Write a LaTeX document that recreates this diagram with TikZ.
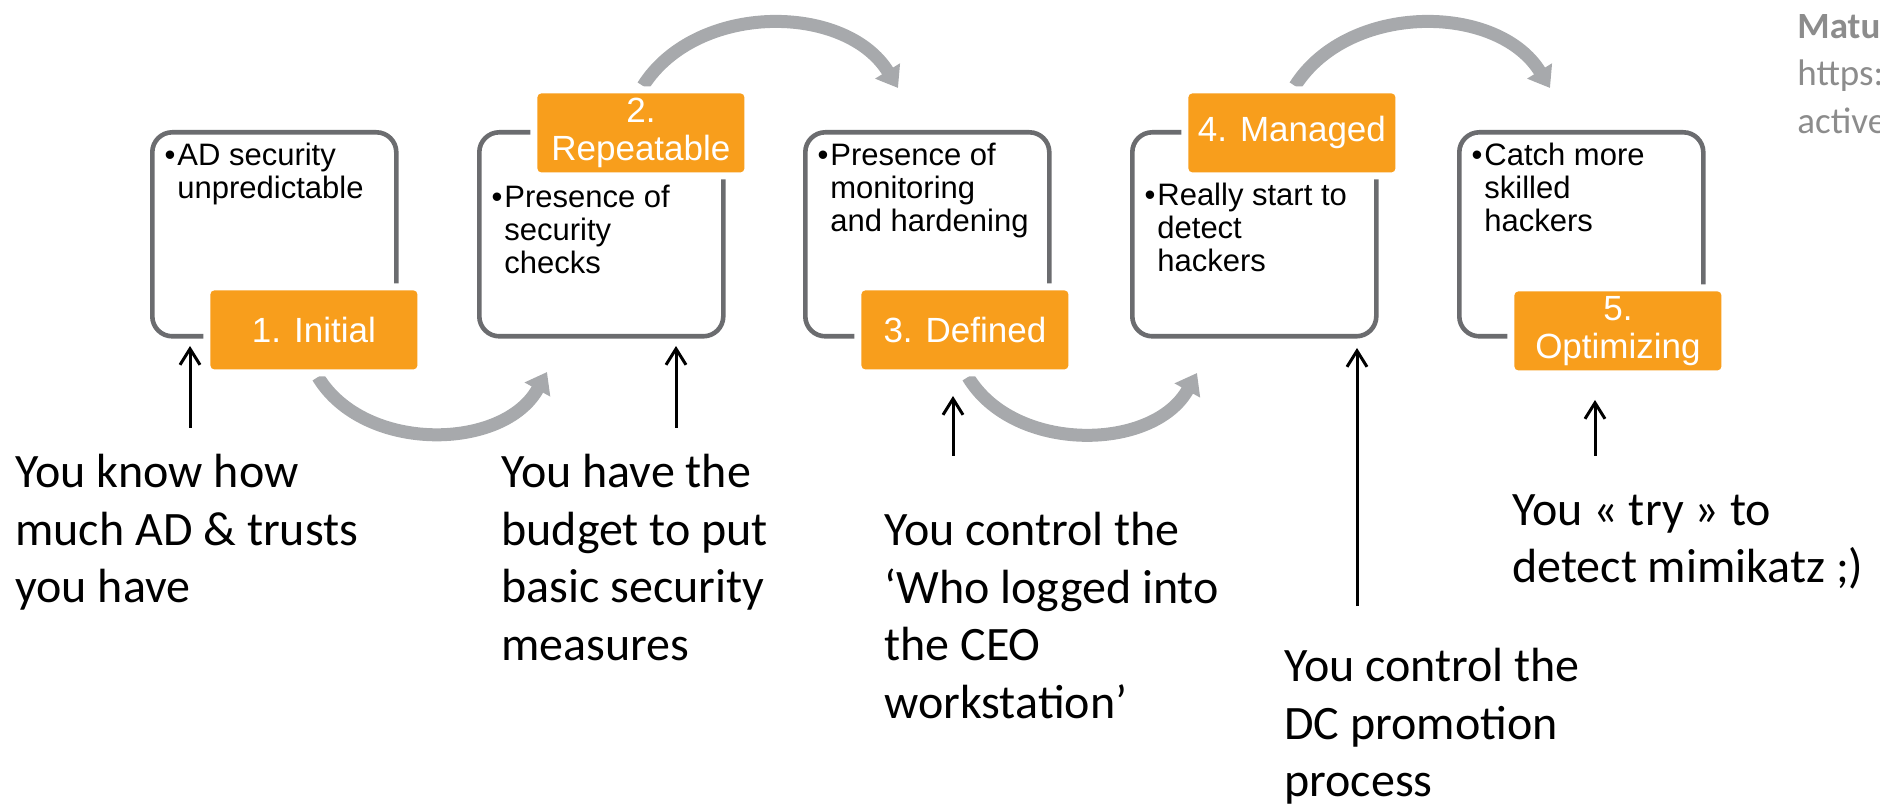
\documentclass[tikz,border=0pt]{standalone}
\usepackage{fontspec}
\setmainfont{Carlito}
\newfontfamily\arialfont{Liberation Sans}
\usetikzlibrary{arrows.meta}

\definecolor{stepOrange}{HTML}{F89E1C}
\definecolor{arcGray}{HTML}{A7A9AC}
\definecolor{boxGray}{HTML}{6B6C6F}
\definecolor{noteGray}{HTML}{8C8C8C}

\begin{document}
\begin{tikzpicture}[x=0.5pt, y=-0.5pt,
    stagebox/.style={draw=boxGray, line width=2.3pt, rounded corners=10pt,
        minimum width=122pt, minimum height=102pt, inner sep=0pt, anchor=north west},
    steplabel/.style={fill=stepOrange, rounded corners=2pt,
        preaction={draw=white, line width=7pt},
        minimum width=103.5pt, minimum height=39.5pt, inner sep=0pt,
        text=white, align=center, anchor=north west,
        font=\arialfont\fontsize{17.5}{19}\selectfont},
    boxtext/.style={inner sep=0pt, align=left, anchor=north west,
        font=\arialfont\fontsize{15.5}{16.5}\selectfont},
    remark/.style={inner sep=0pt, align=left, anchor=north west,
        font=\fontsize{24}{28.75}\selectfont},
    pointer/.style={-{Straight Barb[length=8pt, width=10pt]}, line width=1.5pt},
    flow/.style={-{Triangle[width=14pt, length=10pt]}, draw=arcGray, line width=6.5pt}]

    \useasboundingbox (0,0) rectangle (1880,812);

    % 1. The five stage boxes
    \node[stagebox] (box1) at (150,130) {};
    \node[stagebox] (box2) at (477,130) {};
    \node[stagebox] (box3) at (803,130) {};
    \node[stagebox] (box4) at (1130,130) {};
    \node[stagebox] (box5) at (1457,130) {};

    % Bullet text inside the boxes
    \node[boxtext] (txt1) at (177,143)  {\llap{•\hspace{1pt}}AD security\\unpredictable};
    \node[boxtext] (txt2) at (504,185)  {\llap{•\hspace{1pt}}Presence of\\security\\checks};
    \node[boxtext] (txt3) at (830,143)  {\llap{•\hspace{1pt}}Presence of\\monitoring\\and hardening};
    \node[boxtext] (txt4) at (1157,183) {\llap{•\hspace{1pt}}Really start to\\detect\\hackers};
    \node[boxtext] (txt5) at (1484,143) {\llap{•\hspace{1pt}}Catch more\\skilled\\hackers};

    % 2. Grey arcs between the stages
    \coordinate (a1) at (318,377);  \coordinate (a2) at (547,372);
    \coordinate (b1) at (643,86);   \coordinate (b2) at (898,88);
    \coordinate (c1) at (968,377);  \coordinate (c2) at (1197,373);
    \coordinate (d1) at (1295,86);  \coordinate (d2) at (1550,88);

    \draw[flow] (a1) to[bend right=60] (a2);
    \draw[flow] (b1) to[bend left=58]  (b2);
    \draw[flow] (c1) to[bend right=60] (c2);
    \draw[flow] (d1) to[bend left=58]  (d2);

    % 3. Orange stage labels
    \node[steplabel] (lab1) at (210,290)  {1. Initial};
    \node[steplabel] (lab2) at (537,93)   {2.\\Repeatable};
    \node[steplabel] (lab3) at (861,290)  {3. Defined};
    \node[steplabel] (lab4) at (1188,93)  {4. Managed};
    \node[steplabel] (lab5) at (1514,291) {5.\\Optimizing};

    % 4. Remarks below, with black arrows pointing up
    \node[remark] (know)   at (15,454)   {You know how\\much AD \& trusts\\you have};
    \node[remark] (budget) at (501,454)  {You have the\\budget to put\\basic security\\measures};
    \node[remark] (ceo)    at (884,512)  {You control the\\‘Who logged into\\the CEO\\workstation’};
    \node[remark] (dcpro)  at (1284,648) {You control the\\DC promotion\\process};
    \node[remark] (mimi)   at (1512,494) {You « try » to\\detect mimikatz ;)};

    \coordinate (p1) at (190,428);  \coordinate (q1) at (190,346);
    \coordinate (p2) at (676,428);  \coordinate (q2) at (676,346);
    \coordinate (p3) at (953,456);  \coordinate (q3) at (953,396);
    \coordinate (p4) at (1357,606); \coordinate (q4) at (1357,348);
    \coordinate (p5) at (1595,456); \coordinate (q5) at (1595,400);

    \draw[pointer] (p1) -- (q1);
    \draw[pointer] (p2) -- (q2);
    \draw[pointer] (p3) -- (q3);
    \draw[pointer] (p4) -- (q4);
    \draw[pointer] (p5) -- (q5);

    % 5. Source note, top right
    \node[remark, text=noteGray, font=\fontsize{18.5}{23.75}\selectfont] (note) at (1797,14)
        {\textbf{Matu}\\https:\\active};

\end{tikzpicture}
\end{document}
